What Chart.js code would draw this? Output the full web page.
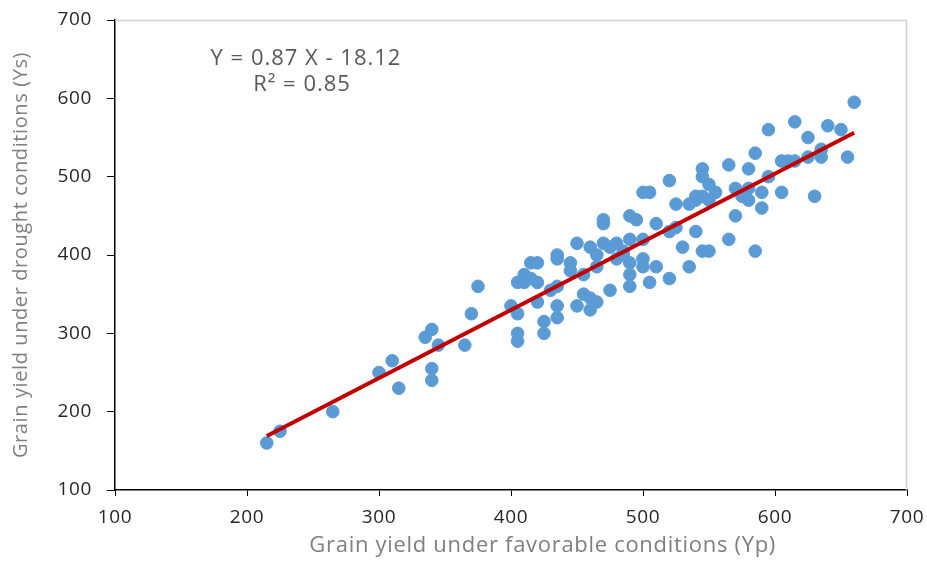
<!DOCTYPE html>
<html>
<head>
<meta charset="utf-8">
<script src="https://cdn.jsdelivr.net/npm/chart.js@4.4.1/dist/chart.umd.min.js"></script>
<style>
html,body{margin:0;padding:0;background:#fff;}
#wrap{width:927px;height:561px;position:relative;}
</style>
</head>
<body>
<div id="wrap"><canvas id="c" width="927" height="561"></canvas></div>
<script>
const ypValues = [215,225,265,300,310,315,335,340,340,340,345,365,370,375,400,405,405,405,405,410,410,415,415,420,420,420,425,425,430,435,435,435,435,435,445,445,450,450,455,455,460,460,460,465,465,465,470,470,470,475,475,480,480,485,485,490,490,490,490,490,495,500,500,500,500,505,505,510,510,520,520,520,525,525,530,535,535,540,540,540,545,545,545,545,550,550,550,555,565,565,570,570,575,580,580,580,585,585,590,590,595,595,605,605,610,615,615,625,625,630,635,635,640,650,655,660];
const ysValues = [160,175,200,250,265,230,295,305,255,240,285,285,325,360,335,365,325,300,290,375,365,370,390,390,365,340,315,300,355,400,395,360,335,320,390,380,415,335,375,350,410,345,330,400,385,340,445,440,415,410,355,415,395,405,400,450,420,390,375,360,445,480,420,395,385,480,365,440,385,495,430,370,465,435,410,465,385,475,470,430,510,500,475,405,490,470,405,480,515,420,485,450,475,510,485,470,530,405,480,460,560,500,520,480,520,570,520,550,525,475,535,525,565,560,525,595];
const trendX = [215, 660];
const trendY = [169, 556];
const xTicks = [100,200,300,400,500,600,700];
const yTicks = [100,200,300,400,500,600,700];
const equationText = "Y = 0.87 X - 18.12";
const r2Text = "R² = 0.85";
const xTitle = "Grain yield under favorable conditions (Yp)";
const yTitle = "Grain yield under drought conditions (Ys)";

const FONT = "'Open Sans', Lato, sans-serif";

const scatterData = ypValues.map((x,i)=>({x:x, y:ysValues[i]}));
const lineData = trendX.map((x,i)=>({x:x, y:trendY[i]}));

const framePlugin = {
  id:'frame',
  beforeDraw(chart){
    chart.ctx.letterSpacing = '0.6px';
  },
  beforeDatasetsDraw(chart){
    const {ctx, chartArea:a} = chart;
    ctx.save();
    ctx.strokeStyle = '#d0d0d0';
    ctx.lineWidth = 1.5;
    ctx.beginPath();
    ctx.moveTo(a.left, a.top+0.5);
    ctx.lineTo(a.right-0.5, a.top+0.5);
    ctx.lineTo(a.right-0.5, a.bottom);
    ctx.stroke();
    ctx.restore();
  },
  afterDraw(chart){
    const {ctx} = chart;
    const xs = chart.scales.x, ys = chart.scales.y;
    ctx.save();
    ctx.textAlign = 'center';
    ctx.textBaseline = 'middle';
    ctx.fillStyle = '#595959';
    ctx.letterSpacing = '1px';
    ctx.font = "22px " + FONT;
    ctx.fillText(equationText, xs.getPixelForValue(244.7), ys.getPixelForValue(651));
    ctx.fillText(r2Text, xs.getPixelForValue(241.7), ys.getPixelForValue(617));
    ctx.fillStyle = '#7f7f7f';
    ctx.letterSpacing = '0.7px';
    ctx.font = "22px " + FONT;
    ctx.fillText(xTitle, xs.getPixelForValue(424), chart.height - 15);
    ctx.restore();
  }
};

new Chart(document.getElementById('c'), {
  data:{
    datasets:[
      {type:'scatter', data:scatterData, backgroundColor:'#5b9bd5', borderColor:'#5b9bd5', pointRadius:6.3, pointHoverRadius:6.3, order:2},
      {type:'line', data:lineData, borderColor:'#c00000', borderWidth:4, pointRadius:0, fill:false, order:1}
    ]
  },
  options:{
    responsive:false,
    animation:false,
    events:[],
    layout:{padding:{top:20, right:20, left:0, bottom:0}},
    plugins:{legend:{display:false}, tooltip:{enabled:false}},
    scales:{
      x:{
        type:'linear', min:100, max:700,
        afterBuildTicks(s){ s.ticks = xTicks.map(v=>({value:v})); },
        afterFit(s){ s.height = 71; s.paddingLeft = 0; s.paddingRight = 0; },
        grid:{drawOnChartArea:false, drawTicks:true, tickLength:6, color:'#000', tickColor:'#000'},
        border:{color:'#000', width:1.5},
        ticks:{color:'#262626', font:{family:FONT, size:19}, padding:10, maxRotation:0},
        title:{display:false, text:xTitle}
      },
      y:{
        type:'linear', min:100, max:700,
        afterBuildTicks(s){ s.ticks = yTicks.map(v=>({value:v})); },
        afterFit(s){ s.width = 115; s.paddingTop = 0; s.paddingBottom = 0; },
        grid:{drawOnChartArea:false, drawTicks:true, tickLength:8, color:'#000', tickColor:'#000'},
        border:{color:'#000', width:1.5},
        ticks:{color:'#262626', font:{family:FONT, size:19}, padding:15},
        title:{display:true, text:yTitle, color:'#7f7f7f', font:{family:FONT, size:20}, padding:{top:9,bottom:4}}
      }
    }
  },
  plugins:[framePlugin]
});
</script>
</body>
</html>
